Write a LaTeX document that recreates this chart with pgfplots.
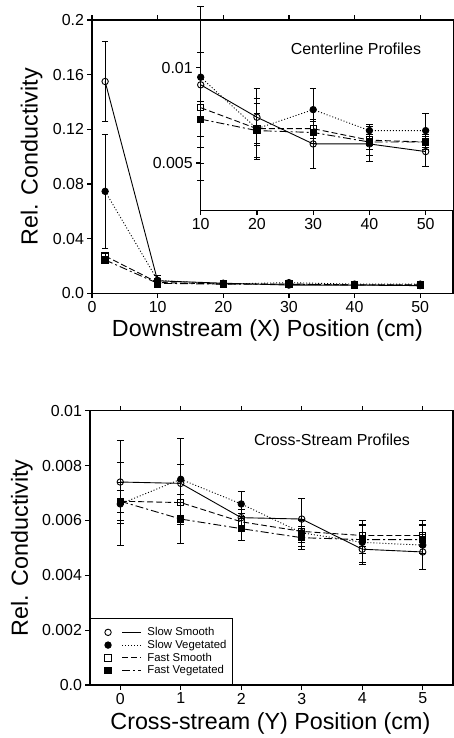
\documentclass[border=0pt]{standalone}
\usepackage{fontspec}
\setmainfont{Liberation Sans}
\usepackage{pgfplots}
\usepackage{pgfplotstable}
\pgfplotsset{compat=1.18}

% Centerline profiles (x in cm, value, error plus, error minus)
\pgfplotstableread{
x y ep em
2 0.155 0.029 0.029
10 0.0091 0.0041 0.0050
20 0.0074 0.0015 0.0015
30 0.0060 0.0013 0.0013
40 0.0060 0.0009 0.0009
50 0.0056 0.0008 0.0008
}\cSS
\pgfplotstableread{
x y ep em
2 0.0746 0.0418 0.0417
10 0.0095 0.0037 0.0037
20 0.0068 0.0016 0.0016
30 0.0078 0.0011 0.0011
40 0.0067 0.0003 0.0003
50 0.0067 0.0009 0.0009
}\cSV
\pgfplotstableread{
x y ep em
2 0.0273 0.0015 0.0015
10 0.0079 0.0029 0.0029
20 0.0068 0.0008 0.0008
30 0.0068 0.0005 0.0005
40 0.0062 0.0008 0.0008
50 0.0061 0.0004 0.0004
}\cFS
\pgfplotstableread{
x y ep em
2 0.0244 0.0012 0.0012
10 0.0073 0.0009 0.0009
20 0.0067 0.0014 0.0014
30 0.0066 0.0006 0.0006
40 0.0061 0.0004 0.0004
50 0.0061 0.0003 0.0003
}\cFV
% Cross-stream profiles
\pgfplotstableread{
x y ep em
0 0.0074 0.0015 0.0015
1 0.00735 0.0007 0.0007
2 0.0061 0.0003 0.0003
3 0.00605 0.00075 0.00075
4 0.00495 0.0005 0.0005
5 0.00485 0.00065 0.00065
}\xSS
\pgfplotstableread{
x y ep em
0 0.0066 0.0015 0.0015
1 0.0075 0.0015 0.0015
2 0.0066 0.00045 0.00045
3 0.00555 0.0005 0.0005
4 0.0052 0.0008 0.0008
5 0.0051 0.0009 0.0009
}\xSV
\pgfplotstableread{
x y ep em
0 0.0067 0.0004 0.0004
1 0.00665 0.0008 0.0008
2 0.00595 0.0003 0.0003
3 0.0056 0.0004 0.0004
4 0.00545 0.0004 0.0004
5 0.00545 0.0004 0.0004
}\xFS
\pgfplotstableread{
x y ep em
0 0.0067 0.0007 0.0007
1 0.00605 0.0009 0.0009
2 0.0057 0.00044 0.00044
3 0.00537 0.00042 0.00042
4 0.0053 0.0005 0.0005
5 0.0053 0.0005 0.0005
}\xFV

\pgfplotsset{
  ss/.style={black, solid, line width=0.9bp, mark=o, mark size=3.2bp, mark options={solid, fill=white, line width=0.9bp}},
  sv/.style={black, dash pattern=on 1bp off 2bp, line width=0.9bp, mark=*, mark size=3.2bp, mark options={solid}},
  fs/.style={black, dash pattern=on 6bp off 3bp, line width=0.9bp, mark=square, mark size=3.2bp, mark options={solid, fill=white, line width=0.9bp}},
  fv/.style={black, dash pattern=on 8bp off 3bp on 2bp off 3bp, line width=0.9bp, mark=square*, mark size=3.2bp, mark options={solid}},
  eb/.style={error bars/.cd, y dir=both, y explicit, error mark=-, error bar style={solid, line width=1bp}, error mark options={solid, rotate=90, line width=1bp, mark size=3.3bp}, /pgfplots/.cd},
  common/.style={
    scale only axis, anchor=south west,
    axis line style={line width=1.2bp},
    tick style={line width=1.2bp, black},
    major tick length=4.5bp,
    tick align=outside,
    scaled y ticks=false,
    /pgf/number format/assume math mode=true,
    tick label style={font=\fontsize{16}{18}\selectfont},
    label style={font=\fontsize{23.4}{26}\selectfont},
  },
}

\begin{document}
\begin{tikzpicture}
% ---------- top: centerline profiles ----------
\begin{axis}[common,
  at={(92bp,444.7bp)}, width=361bp, height=273.3bp,
  xmin=0, xmax=55, ymin=0, ymax=0.2,
  xtick={0,10,20,30,40,50}, xtick pos=both,
  ytick={0,0.04,0.08,0.12,0.16,0.2}, ytick pos=left,
  yticklabels={0.0,0.04,0.08,0.12,0.16,0.2},
  xlabel={Downstream (X) Position (cm)},
  ylabel={Rel. Conductivity},
  xlabel style={at={(axis description cs:0.486,-0.136)}, anchor=center},
  ylabel style={at={(axis description cs:-0.167,0.5)}, anchor=center},
]
\addplot[ss, eb] table[x=x, y=y, y error plus=ep, y error minus=em] {\cSS};
\addplot[sv, eb] table[x=x, y=y, y error plus=ep, y error minus=em] {\cSV};
\addplot[fs, eb] table[x=x, y=y, y error plus=ep, y error minus=em] {\cFS};
\addplot[fv, eb] table[x=x, y=y, y error plus=ep, y error minus=em] {\cFV};
\end{axis}
% ---------- inset ----------
\begin{axis}[common,
  at={(200.7bp,527.3bp)}, width=253.1bp, height=190.7bp,
  xmin=10, xmax=55, ymin=0.0025, ymax=0.0125,
  xtick={10,20,30,40,50}, xtick pos=left,
  ytick={0.005,0.01}, ytick pos=left,
  yticklabels={0.005,0.01},
  clip=false,
  axis background/.style={fill=white},
]
\addplot[ss, restrict x to domain=9:51, eb] table[x=x, y=y, y error plus=ep, y error minus=em] {\cSS};
\addplot[sv, restrict x to domain=9:51, eb] table[x=x, y=y, y error plus=ep, y error minus=em] {\cSV};
\addplot[fs, restrict x to domain=9:51, eb] table[x=x, y=y, y error plus=ep, y error minus=em] {\cFS};
\addplot[fv, restrict x to domain=9:51, eb] table[x=x, y=y, y error plus=ep, y error minus=em] {\cFV};
\node[font=\fontsize{16}{18}\selectfont] at (axis cs:37.6,0.011) {Centerline Profiles};
\end{axis}
% ---------- bottom: cross-stream profiles ----------
\begin{axis}[common,
  at={(90bp,53bp)}, width=363bp, height=274.3bp,
  xmin=-0.5, xmax=5.5, ymin=0, ymax=0.01,
  xtick={0,1,2,3,4,5}, xtick pos=both,
  ytick={0,0.002,0.004,0.006,0.008,0.01}, ytick pos=left,
  yticklabels={0.0,0.002,0.004,0.006,0.008,0.01},
  xlabel={Cross-stream (Y) Position (cm)},
  ylabel={Rel. Conductivity},
  xlabel style={at={(axis description cs:0.497,-0.1385)}, anchor=center},
  ylabel style={at={(axis description cs:-0.188,0.5)}, anchor=center},
  legend style={at={(0,0)}, anchor=south west, draw=black, line width=1.2bp,
    fill=white, font=\fontsize{11.4}{13}\selectfont, cells={anchor=west},
    nodes={inner ysep=1.5bp},
    inner xsep=4bp, inner ysep=7.5bp, row sep=0bp},
  legend image code/.code={%
    \path (-13bp,0bp);
    \draw[#1, mark=none] (14bp,0bp) -- (33bp,0bp);
    \draw[#1, solid] plot[only marks] coordinates {(0bp,0bp)};
    \path (37bp,0bp);
  },
]
\addplot[ss, eb] table[x=x, y=y, y error plus=ep, y error minus=em] {\xSS};
\addlegendentry{Slow Smooth}
\addplot[sv, eb] table[x=x, y=y, y error plus=ep, y error minus=em] {\xSV};
\addlegendentry{Slow Vegetated}
\addplot[fs, eb] table[x=x, y=y, y error plus=ep, y error minus=em] {\xFS};
\addlegendentry{Fast Smooth}
\addplot[fv, eb] table[x=x, y=y, y error plus=ep, y error minus=em] {\xFV};
\addlegendentry{Fast Vegetated}
\node[font=\fontsize{16}{18}\selectfont] at (axis cs:3.5,0.00893) {Cross-Stream Profiles};
\end{axis}
\pgfresetboundingbox
\path[use as bounding box] (0bp,0bp) rectangle (454bp,738bp);
\end{tikzpicture}
\end{document}
